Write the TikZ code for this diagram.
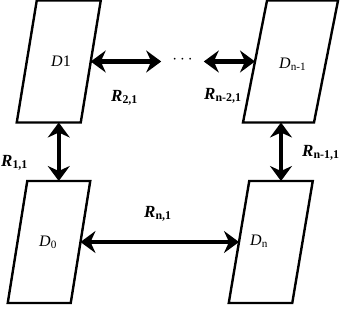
\documentclass[tikz,border=0pt]{standalone}
\usepackage{fontspec}
\setmainfont{Liberation Serif}
\usetikzlibrary{arrows.meta}

\tikzset{
  block/.style={rectangle, draw, line width=2.4pt, transform shape,
    minimum width=64pt, minimum height=122pt, inner sep=0pt, outer sep=0pt},
  link/.style={{Stealth[length=15pt,width=22pt,inset=5pt]}-{Stealth[length=15pt,width=22pt,inset=5pt]},
    line width=4.5pt},
  dlabel/.style={font=\fontsize{16}{18}\selectfont, inner sep=0pt, anchor=base west},
  rlabel/.style={font=\fontsize{17}{19}\selectfont\bfseries, inner sep=0pt, anchor=base west}
}

\begin{document}
\begin{tikzpicture}[x=1pt, y=-1pt]
    \useasboundingbox (0,0) rectangle (342,308);
    % the four blocks
    \begin{scope}[shift={(58.75,61.5)}, xslant=0.164]
        \node[block] (d1) at (0,0) {};
    \end{scope}
    \begin{scope}[shift={(290.5,61.5)}, xslant=0.197]
        \node[block, minimum width=71pt] (dn1) at (0,0) {};
    \end{scope}
    \begin{scope}[shift={(49,242)}, xslant=0.16]
        \node[block, minimum width=63pt] (d0) at (0,0) {};
    \end{scope}
    \begin{scope}[shift={(270.75,242)}, xslant=0.168]
        \node[block, minimum width=63.5pt] (dn) at (0,0) {};
    \end{scope}
    \node[font=\fontsize{17}{19}\selectfont, inner xsep=11pt, inner ysep=0pt] (dots) at (182.5,60) {$\cdots$};
    % block names
    \node[dlabel] (l1) at (51,66) {\textit{D}1};
    \node[dlabel] (ln1) at (279,68) {\textit{D}\textsubscript{n-1}};
    \node[dlabel] (l0) at (39,246) {\textit{D}\textsubscript{0}};
    \node[dlabel] (ln) at (250,245) {\textit{D}\textsubscript{n}};
    % links
    \draw[link] (d1.east) -- (d1.east -| dots.west);
    \draw[link] (dn1.west -| dots.east) -- (dn1.west);
    \draw[link] (d0.north |- d1.south) -- (d0.north);
    \draw[link] (dn.north |- dn1.south) -- (dn.north);
    \draw[link] (d0.east) -- (dn.west);
    % link names
    \node[rlabel] (r21) at (111,101) {\textit{R}\textsubscript{2,1}};
    \node[rlabel] (rn21) at (204,99) {\textit{R}\textsubscript{n-2,1}};
    \node[rlabel] (r11) at (1,166) {\textit{R}\textsubscript{1,1}};
    \node[rlabel] (rn11) at (302,156) {\textit{R}\textsubscript{n-1,1}};
    \node[rlabel] (rn1) at (144,217) {\textit{R}\textsubscript{n,1}};
\end{tikzpicture}
\end{document}
